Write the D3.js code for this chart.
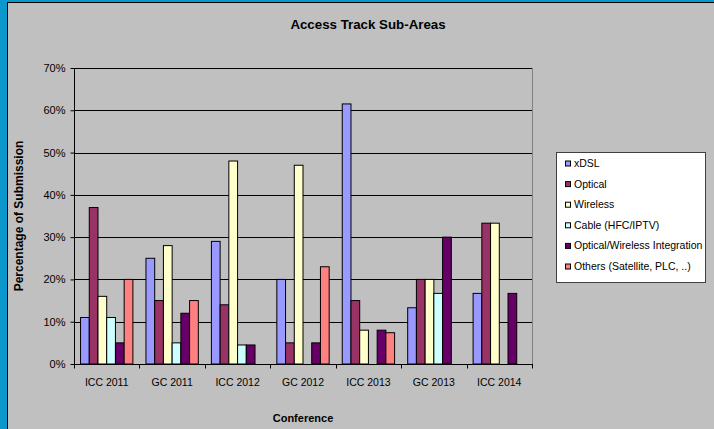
<!DOCTYPE html>
<html>
<head>
<meta charset="utf-8">
<script src="https://cdn.jsdelivr.net/npm/d3@7"></script>
<style>
  body { margin: 0; background: #0b98cc; }
  svg { display: block; font-family: "Liberation Sans", Arial, sans-serif; }
</style>
</head>
<body>
<div id="chart"></div>
<script>
// data (percent)
var conferences = ["ICC 2011", "GC 2011", "ICC 2012", "GC 2012", "ICC 2013", "GC 2013", "ICC 2014"];
var seriesNames = ["xDSL", "Optical", "Wireless", "Cable (HFC/IPTV)", "Optical/Wireless Integration", "Others (Satellite, PLC, ..)"];
var seriesColors = ["#9999ff", "#993366", "#ffffcc", "#ccffff", "#660066", "#ff8080"];
var xdsl     = [11, 25, 29, 20, 61.5, 13.3, 16.7];
var optical  = [37, 15, 14, 5, 15, 20, 33.3];
var wireless = [16, 28, 48, 47, 8, 20, 33.3];
var cable    = [11, 5, 4.5, 0, 0, 16.7, 0];
var owi      = [5, 12, 4.5, 5, 8, 30, 16.7];
var others   = [20, 15, 0, 23, 7.4, 0, 0];
var yTicks = [0, 10, 20, 30, 40, 50, 60, 70];

var seriesValues = [xdsl, optical, wireless, cable, owi, others];

var w = 714, h = 429;
var plotLeft = 74, plotRight = 532, plotTop = 68, plotBottom = 364;

var svg = d3.select("#chart")
    .append("svg")
    .attr("width", w)
    .attr("height", h);

// grey chart area
svg.append("rect")
    .attr("x", 7.5).attr("y", 2.5)
    .attr("width", w).attr("height", h)
    .attr("fill", "#c0c0c0")
    .attr("stroke", "#000")
    .attr("stroke-width", 1);

var x0 = d3.scaleBand()
    .domain(conferences)
    .range([plotLeft, plotRight]);
// gap width 150% -> 6 bars + 1.5 bar of gap
var x1 = d3.scaleBand()
    .domain(d3.range(seriesNames.length))
    .range([0, x0.bandwidth()])
    .paddingOuter(0.75);
var y = d3.scaleLinear()
    .domain([0, 70])
    .range([plotBottom, plotTop]);

// gridlines
svg.append("g")
    .selectAll("line")
    .data(yTicks.slice(1))
    .enter()
    .append("line")
    .attr("x1", plotLeft).attr("x2", plotRight)
    .attr("y1", function(d) { return Math.round(y(d)) + 0.5; })
    .attr("y2", function(d) { return Math.round(y(d)) + 0.5; })
    .attr("stroke", "#000")
    .attr("stroke-width", 1);

// plot area right border
svg.append("line")
    .attr("x1", plotRight + 0.5).attr("x2", plotRight + 0.5)
    .attr("y1", plotTop).attr("y2", plotBottom)
    .attr("stroke", "#808080");

// bars
var groups = svg.append("g")
    .selectAll("g")
    .data(conferences)
    .enter()
    .append("g")
    .attr("transform", function(d) { return "translate(" + x0(d) + ",0)"; });
groups.selectAll("rect")
    .data(function(d, ci) {
        return seriesValues.map(function(vals, si) { return { s: si, v: vals[ci] }; })
            .filter(function(b) { return b.v > 0; });
    })
    .enter()
    .append("rect")
    .attr("x", function(d) { return x1(d.s); })
    .attr("y", function(d) { return y(d.v); })
    .attr("width", x1.bandwidth())
    .attr("height", function(d) { return plotBottom - y(d.v); })
    .attr("fill", function(d) { return seriesColors[d.s]; })
    .attr("stroke", "#000")
    .attr("stroke-width", 1);

// axes
var yAxis = d3.axisLeft(y)
    .tickValues(yTicks)
    .tickSize(4)
    .tickPadding(5)
    .tickFormat(function(d) { return d + "%"; });
var yg = svg.append("g")
    .attr("transform", "translate(" + (plotLeft + 0.5) + ",0)")
    .call(yAxis);
yg.select(".domain").remove();
yg.append("line")
    .attr("x1", 0).attr("x2", 0)
    .attr("y1", plotTop).attr("y2", plotBottom)
    .attr("stroke", "#000");
yg.selectAll("text").attr("font-size", "11px").attr("fill", "#000").attr("font-family", null);

var xg = svg.append("g")
    .attr("transform", "translate(0," + (plotBottom + 0.5) + ")");
xg.append("line")
    .attr("x1", plotLeft).attr("x2", plotRight + 1)
    .attr("stroke", "#000");
xg.selectAll("line.tick")
    .data(d3.range(conferences.length + 1))
    .enter()
    .append("line")
    .attr("class", "tick")
    .attr("x1", function(i) { return Math.round(plotLeft + i * x0.step()) + 0.5; })
    .attr("x2", function(i) { return Math.round(plotLeft + i * x0.step()) + 0.5; })
    .attr("y1", 0).attr("y2", 4)
    .attr("stroke", "#000");
xg.selectAll("text")
    .data(conferences)
    .enter()
    .append("text")
    .attr("x", function(d) { return x0(d) + x0.bandwidth() / 2; })
    .attr("y", 21)
    .attr("text-anchor", "middle")
    .attr("font-size", "10.5px")
    .text(function(d) { return d; });

// titles
svg.append("text")
    .attr("x", 368).attr("y", 29)
    .attr("text-anchor", "middle")
    .attr("font-size", "13.3px")
    .attr("font-weight", "bold")
    .text("Access Track Sub-Areas");
svg.append("text")
    .attr("x", 303).attr("y", 422)
    .attr("text-anchor", "middle")
    .attr("font-size", "11px")
    .attr("font-weight", "bold")
    .text("Conference");
svg.append("text")
    .attr("transform", "translate(23,216) rotate(-90)")
    .attr("text-anchor", "middle")
    .attr("font-size", "12px")
    .attr("font-weight", "bold")
    .text("Percentage of Submission");

// legend
var legend = svg.append("g").attr("transform", "translate(556,152)");
legend.append("rect")
    .attr("x", 0.5).attr("y", 0.5)
    .attr("width", 149).attr("height", 130)
    .attr("fill", "#fff")
    .attr("stroke", "#404040");
var items = legend.selectAll("g.item")
    .data(seriesNames)
    .enter()
    .append("g")
    .attr("class", "item")
    .attr("transform", function(d, i) { return "translate(0," + (11.5 + i * 20.6) + ")"; });
items.append("rect")
    .attr("x", 9.5).attr("y", -2.5)
    .attr("width", 5).attr("height", 5)
    .attr("fill", function(d, i) { return seriesColors[i]; })
    .attr("stroke", "#000");
items.append("text")
    .attr("x", 18)
    .attr("y", 3.5)
    .attr("font-size", "10.5px")
    .text(function(d) { return d; });
</script>
</body>
</html>
